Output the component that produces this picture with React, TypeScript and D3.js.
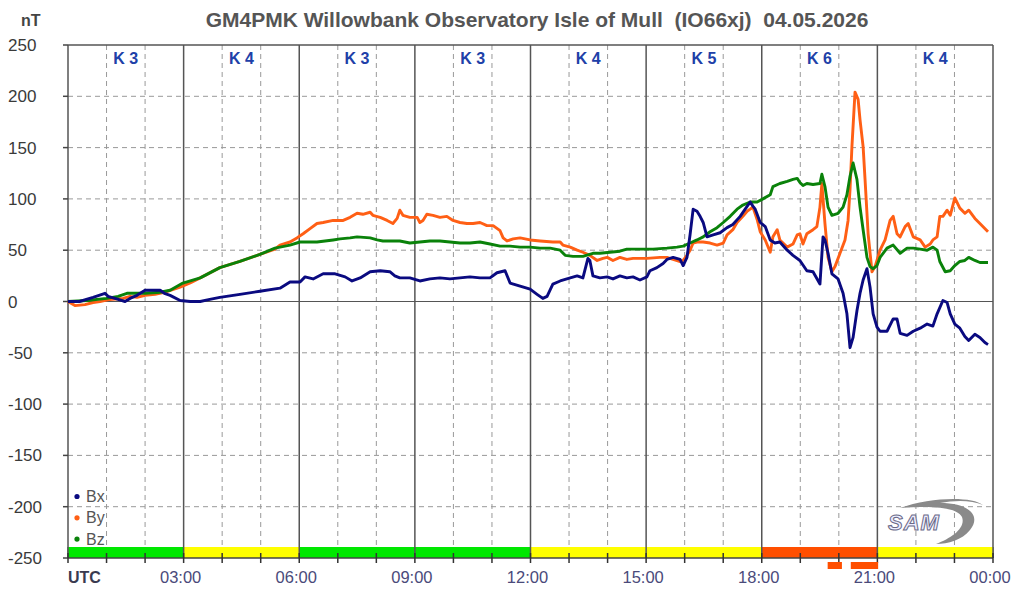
import React from "react";
import * as d3 from "d3";

const kIndex = [3, 4, 3, 3, 4, 5, 6, 4];
const bandColors = ["#00e800", "#ffff00", "#00e800", "#00e800", "#ffff00", "#ffff00", "#ff4f00", "#ffff00"];
const alertBars: [number, number][] = [[19.71, 20.08], [20.31, 21.02]];
const yTicks = [250, 200, 150, 100, 50, 0, -50, -100, -150, -200, -250];
const xTickLabels = ["UTC", "03:00", "06:00", "09:00", "12:00", "15:00", "18:00", "21:00", "00:00"];

const bx: [number, number][] = [[0,0],[0.3,0],[0.65,4],[0.96,8],[1.04,5],[1.3,2],[1.48,0],[1.61,3],[1.79,6],[2.0,11],[2.39,11],[2.5,8],[2.65,6],[2.91,1],[3.17,0],[3.43,0],[3.68,2],[3.94,4],[4.46,7],[4.98,10],[5.5,13],[5.76,19],[6.02,19],[6.15,24],[6.36,22],[6.62,27],[6.93,27],[7.19,24],[7.37,20],[7.58,23],[7.84,29],[8.1,30],[8.35,29],[8.48,25],[8.61,23],[8.87,23],[9.13,20],[9.39,22],[9.65,23],[9.91,22],[10.17,23],[10.43,24],[10.69,23],[10.95,23],[11.13,28],[11.34,30],[11.47,18],[11.73,15],[11.99,12],[12.17,7],[12.32,3],[12.43,5],[12.58,17],[12.77,20],[13.03,23],[13.21,25],[13.36,23],[13.49,42],[13.54,40],[13.62,25],[13.8,23],[13.99,24],[14.14,22],[14.32,25],[14.5,23],[14.66,24],[14.84,21],[15.02,24],[15.1,30],[15.28,33],[15.44,37],[15.54,41],[15.7,43],[15.88,41],[15.96,35],[16.06,43],[16.14,65],[16.22,90],[16.32,88],[16.4,83],[16.48,77],[16.58,63],[16.74,65],[16.92,67],[17.1,72],[17.25,75],[17.44,83],[17.57,90],[17.7,97],[17.77,93],[17.83,90],[17.88,85],[17.96,77],[18.09,73],[18.22,60],[18.34,57],[18.47,58],[18.66,50],[18.81,45],[18.99,40],[19.17,30],[19.33,29],[19.51,17],[19.59,63],[19.64,60],[19.72,47],[19.82,27],[19.98,22],[20.11,8],[20.21,-12],[20.29,-45],[20.37,-35],[20.47,-9],[20.55,8],[20.63,21],[20.73,32],[20.81,14],[20.89,-12],[20.99,-25],[21.07,-29],[21.25,-29],[21.41,-17],[21.51,-17],[21.59,-31],[21.77,-33],[21.93,-29],[22.11,-26],[22.29,-22],[22.44,-24],[22.55,-12],[22.7,1],[22.81,-1],[22.89,-12],[23.01,-22],[23.14,-26],[23.27,-34],[23.37,-38],[23.53,-32],[23.66,-35],[23.79,-40],[23.87,-42]];

const by: [number, number][] = [[0,0],[0.18,-4],[0.44,-3],[0.65,-1],[0.83,0],[1.09,2],[1.43,3],[1.61,5],[1.79,4],[2.0,6],[2.26,7],[2.5,9],[2.91,14],[3.17,18],[3.43,23],[3.94,33],[4.46,39],[4.98,46],[5.37,51],[5.5,55],[5.76,58],[5.94,62],[6.1,66],[6.28,71],[6.46,76],[6.62,77],[6.88,79],[7.14,79],[7.32,82],[7.5,86],[7.65,85],[7.84,87],[7.91,84],[8.1,82],[8.28,79],[8.43,76],[8.54,81],[8.61,89],[8.69,84],[8.87,82],[9.06,82],[9.13,77],[9.21,79],[9.31,85],[9.47,84],[9.65,82],[9.83,83],[9.99,79],[10.17,77],[10.35,76],[10.51,76],[10.69,77],[10.87,74],[11.03,74],[11.21,69],[11.29,62],[11.39,59],[11.55,61],[11.73,62],[11.99,60],[12.25,59],[12.58,58],[12.77,58],[12.84,55],[13.03,53],[13.21,50],[13.36,48],[13.54,45],[13.73,40],[13.88,42],[13.99,43],[14.14,40],[14.32,43],[14.5,41],[14.66,42],[15.02,42],[15.36,43],[15.54,43],[15.7,41],[15.88,39],[15.96,40],[16.06,45],[16.14,50],[16.22,57],[16.32,58],[16.48,58],[16.66,57],[16.84,55],[17.0,57],[17.1,65],[17.25,70],[17.36,77],[17.51,83],[17.62,88],[17.7,90],[17.77,92],[17.88,80],[17.96,68],[18.09,60],[18.22,48],[18.29,63],[18.4,70],[18.47,60],[18.66,53],[18.81,56],[18.92,65],[18.99,66],[19.07,56],[19.17,66],[19.33,70],[19.43,73],[19.51,92],[19.56,115],[19.64,76],[19.72,43],[19.82,29],[19.9,34],[20.03,47],[20.16,60],[20.24,79],[20.29,109],[20.34,151],[20.42,204],[20.5,197],[20.55,177],[20.63,151],[20.68,119],[20.76,66],[20.86,29],[20.94,34],[21.07,50],[21.2,60],[21.33,79],[21.41,83],[21.51,66],[21.59,63],[21.72,73],[21.8,76],[21.93,63],[22.11,60],[22.24,53],[22.37,56],[22.44,60],[22.55,63],[22.62,83],[22.7,83],[22.81,89],[22.89,84],[23.01,101],[23.14,91],[23.27,86],[23.37,89],[23.53,81],[23.66,76],[23.87,68]];

const bz: [number, number][] = [[0,0],[0.5,1],[1.0,3],[1.3,5],[1.53,8],[2.0,8],[2.39,9],[2.65,11],[2.98,18],[3.43,23],[3.94,33],[4.46,39],[4.98,46],[5.37,52],[5.76,55],[6.02,58],[6.28,58],[6.46,58],[6.88,60],[7.06,61],[7.32,62],[7.5,63],[7.84,62],[8.02,60],[8.17,59],[8.61,59],[8.87,57],[9.13,58],[9.39,59],[9.65,59],[9.91,58],[10.17,57],[10.43,57],[10.69,58],[10.95,56],[11.21,54],[11.47,54],[11.73,53],[11.99,53],[12.25,52],[12.51,52],[12.77,50],[12.9,45],[13.1,44],[13.36,44],[13.62,47],[13.8,47],[14.06,48],[14.32,49],[14.5,51],[14.84,51],[15.18,51],[15.54,52],[15.8,53],[15.96,54],[16.14,57],[16.32,60],[16.48,63],[16.66,68],[16.84,72],[17.0,77],[17.18,83],[17.36,90],[17.51,94],[17.7,97],[17.88,97],[18.03,100],[18.22,104],[18.29,112],[18.47,115],[18.66,117],[18.81,119],[18.92,120],[18.99,116],[19.07,113],[19.17,115],[19.33,114],[19.51,115],[19.56,124],[19.64,112],[19.72,92],[19.82,84],[19.98,86],[20.11,92],[20.21,104],[20.29,122],[20.37,135],[20.47,119],[20.55,92],[20.63,70],[20.73,43],[20.81,34],[20.89,32],[20.99,35],[21.07,43],[21.25,52],[21.41,55],[21.59,47],[21.77,52],[21.93,52],[22.11,51],[22.29,50],[22.44,53],[22.55,50],[22.62,39],[22.76,29],[22.89,30],[23.01,35],[23.14,39],[23.27,40],[23.37,43],[23.53,40],[23.66,38],[23.87,38]];

const series = [
  { name: "By", data: by, color: "#ff5f15" },
  { name: "Bz", data: bz, color: "#0a820a" },
  { name: "Bx", data: bx, color: "#0a0a80" },
];
const legend = [
  { name: "Bx", color: "#0a0a80" },
  { name: "By", color: "#ff5f15" },
  { name: "Bz", color: "#0a820a" },
];

const W = 1013, H = 589;
const x = d3.scaleLinear().domain([0, 24]).range([68, 993]);
const y = d3.scaleLinear().domain([-250, 250]).range([558, 45]);
const font = "'Liberation Sans', Arial, sans-serif";

export default function App() {
  const line = d3.line<[number, number]>().x(d => x(d[0])).y(d => y(d[1]));
  const hours = d3.range(0, 25);
  const bandTop = y(-250) - 11;
  return (
    <svg width={W} height={H} style={{ position: "absolute", left: 0, top: 0, background: "#fff" }} fontFamily={font}>
      <rect width={W} height={H} fill="#fff" />
      <text x={537} y={27} textAnchor="middle" fontSize={21} fontWeight="bold" fill="#555">
        GM4PMK Willowbank Observatory Isle of Mull{"\u00a0\u00a0"}(IO66xj){"\u00a0\u00a0"}04.05.2026
      </text>
      <text x={21} y={26} fontSize={16} fontWeight="bold" fill="#444">nT</text>
      {yTicks.filter(v => v !== 250 && v !== -250 && v !== 0).map(v => (
        <line key={"hg" + v} x1={x(0)} x2={x(24)} y1={y(v)} y2={y(v)} stroke="#999" strokeDasharray="5,4" />
      ))}
      {hours.filter(h => h % 3 !== 0).map(h => (
        <line key={"vg" + h} x1={x(h)} x2={x(h)} y1={y(250)} y2={y(-250)} stroke="#999" strokeDasharray="5,4" />
      ))}
      {hours.filter(h => h % 3 === 0).map(h => (
        <line key={"vs" + h} x1={x(h)} x2={x(h)} y1={y(250)} y2={y(-250)} stroke="#555" strokeWidth={1.5} />
      ))}
      <line x1={x(0)} x2={x(24)} y1={y(250)} y2={y(250)} stroke="#555" strokeWidth={1.5} />
      <line x1={x(0)} x2={x(24)} y1={y(0)} y2={y(0)} stroke="#555" strokeWidth={1.2} />
      {yTicks.map(v => (
        <g key={"yt" + v}>
          <line x1={63} x2={x(0)} y1={y(v)} y2={y(v)} stroke="#444" strokeWidth={1.5} />
          <text x={8} y={y(v) + 6} fontSize={17} fill="#3a3a3a">{v}</text>
        </g>
      ))}
      {kIndex.map((k, i) => (
        <text key={"k" + i} x={x(i * 3 + 1.5)} y={64} textAnchor="middle" fontSize={16} fontWeight="bold" fill="#2040a8">{"K " + k}</text>
      ))}
      {series.map(s => (
        <path key={s.name} d={line(s.data) || ""} fill="none" stroke={s.color} strokeWidth={2.9} strokeLinejoin="round" />
      ))}
      {bandColors.map((c, i) => (
        <rect key={"b" + i} x={x(i * 3)} y={bandTop} width={x(i * 3 + 3) - x(i * 3)} height={y(-250) - bandTop} fill={c} />
      ))}
      {hours.filter(h => h % 3 === 0).map(h => (
        <line key={"vb" + h} x1={x(h)} x2={x(h)} y1={bandTop} y2={y(-250)} stroke="#555" strokeWidth={1.5} />
      ))}
      <line x1={x(0)} x2={x(24)} y1={y(-250)} y2={y(-250)} stroke="#444" strokeWidth={1.5} />
      {hours.map(h => (
        <line key={"xt" + h} x1={x(h)} x2={x(h)} y1={y(-250) - 5} y2={y(-250) + 5} stroke="#333" strokeWidth={1.5} />
      ))}
      {alertBars.map((b, i) => (
        <rect key={"a" + i} x={x(b[0])} y={562} width={x(b[1]) - x(b[0])} height={7} fill="#ff4f00" />
      ))}
      {xTickLabels.map((t, i) => i === 0 ? (
        <text key="utc" x={x(0)} y={583} fontSize={16} fontWeight="bold" fill="#3a3a50">{t}</text>
      ) : (
        <text key={"xl" + i} x={x(i * 3) - 3} y={583} textAnchor="middle" fontSize={16.5} fill="#4a4a7a">{t}</text>
      ))}
      {legend.map((l, i) => (
        <g key={"lg" + i}>
          <circle cx={77} cy={496.5 + i * 21.3} r={2.6} fill={l.color} />
          <text x={86} y={502 + i * 21.3} fontSize={16} fill="#555">{l.name}</text>
        </g>
      ))}
      <g>
        <path d="M 900 508 C 930 497, 972 496, 983 505 C 972 500, 955 500, 940 503 C 968 503, 982 515, 970 530 C 962 540, 948 544, 936 544 C 952 538, 966 528, 962 517 C 958 509, 940 505, 900 508 Z" fill="#8a8a8a" />
        <text x={888} y={530} fontSize={22} fontStyle="italic" fontWeight="bold" fill="#eef" stroke="#6a6a88" strokeWidth={1} letterSpacing={1}>SAM</text>
      </g>
    </svg>
  );
}
